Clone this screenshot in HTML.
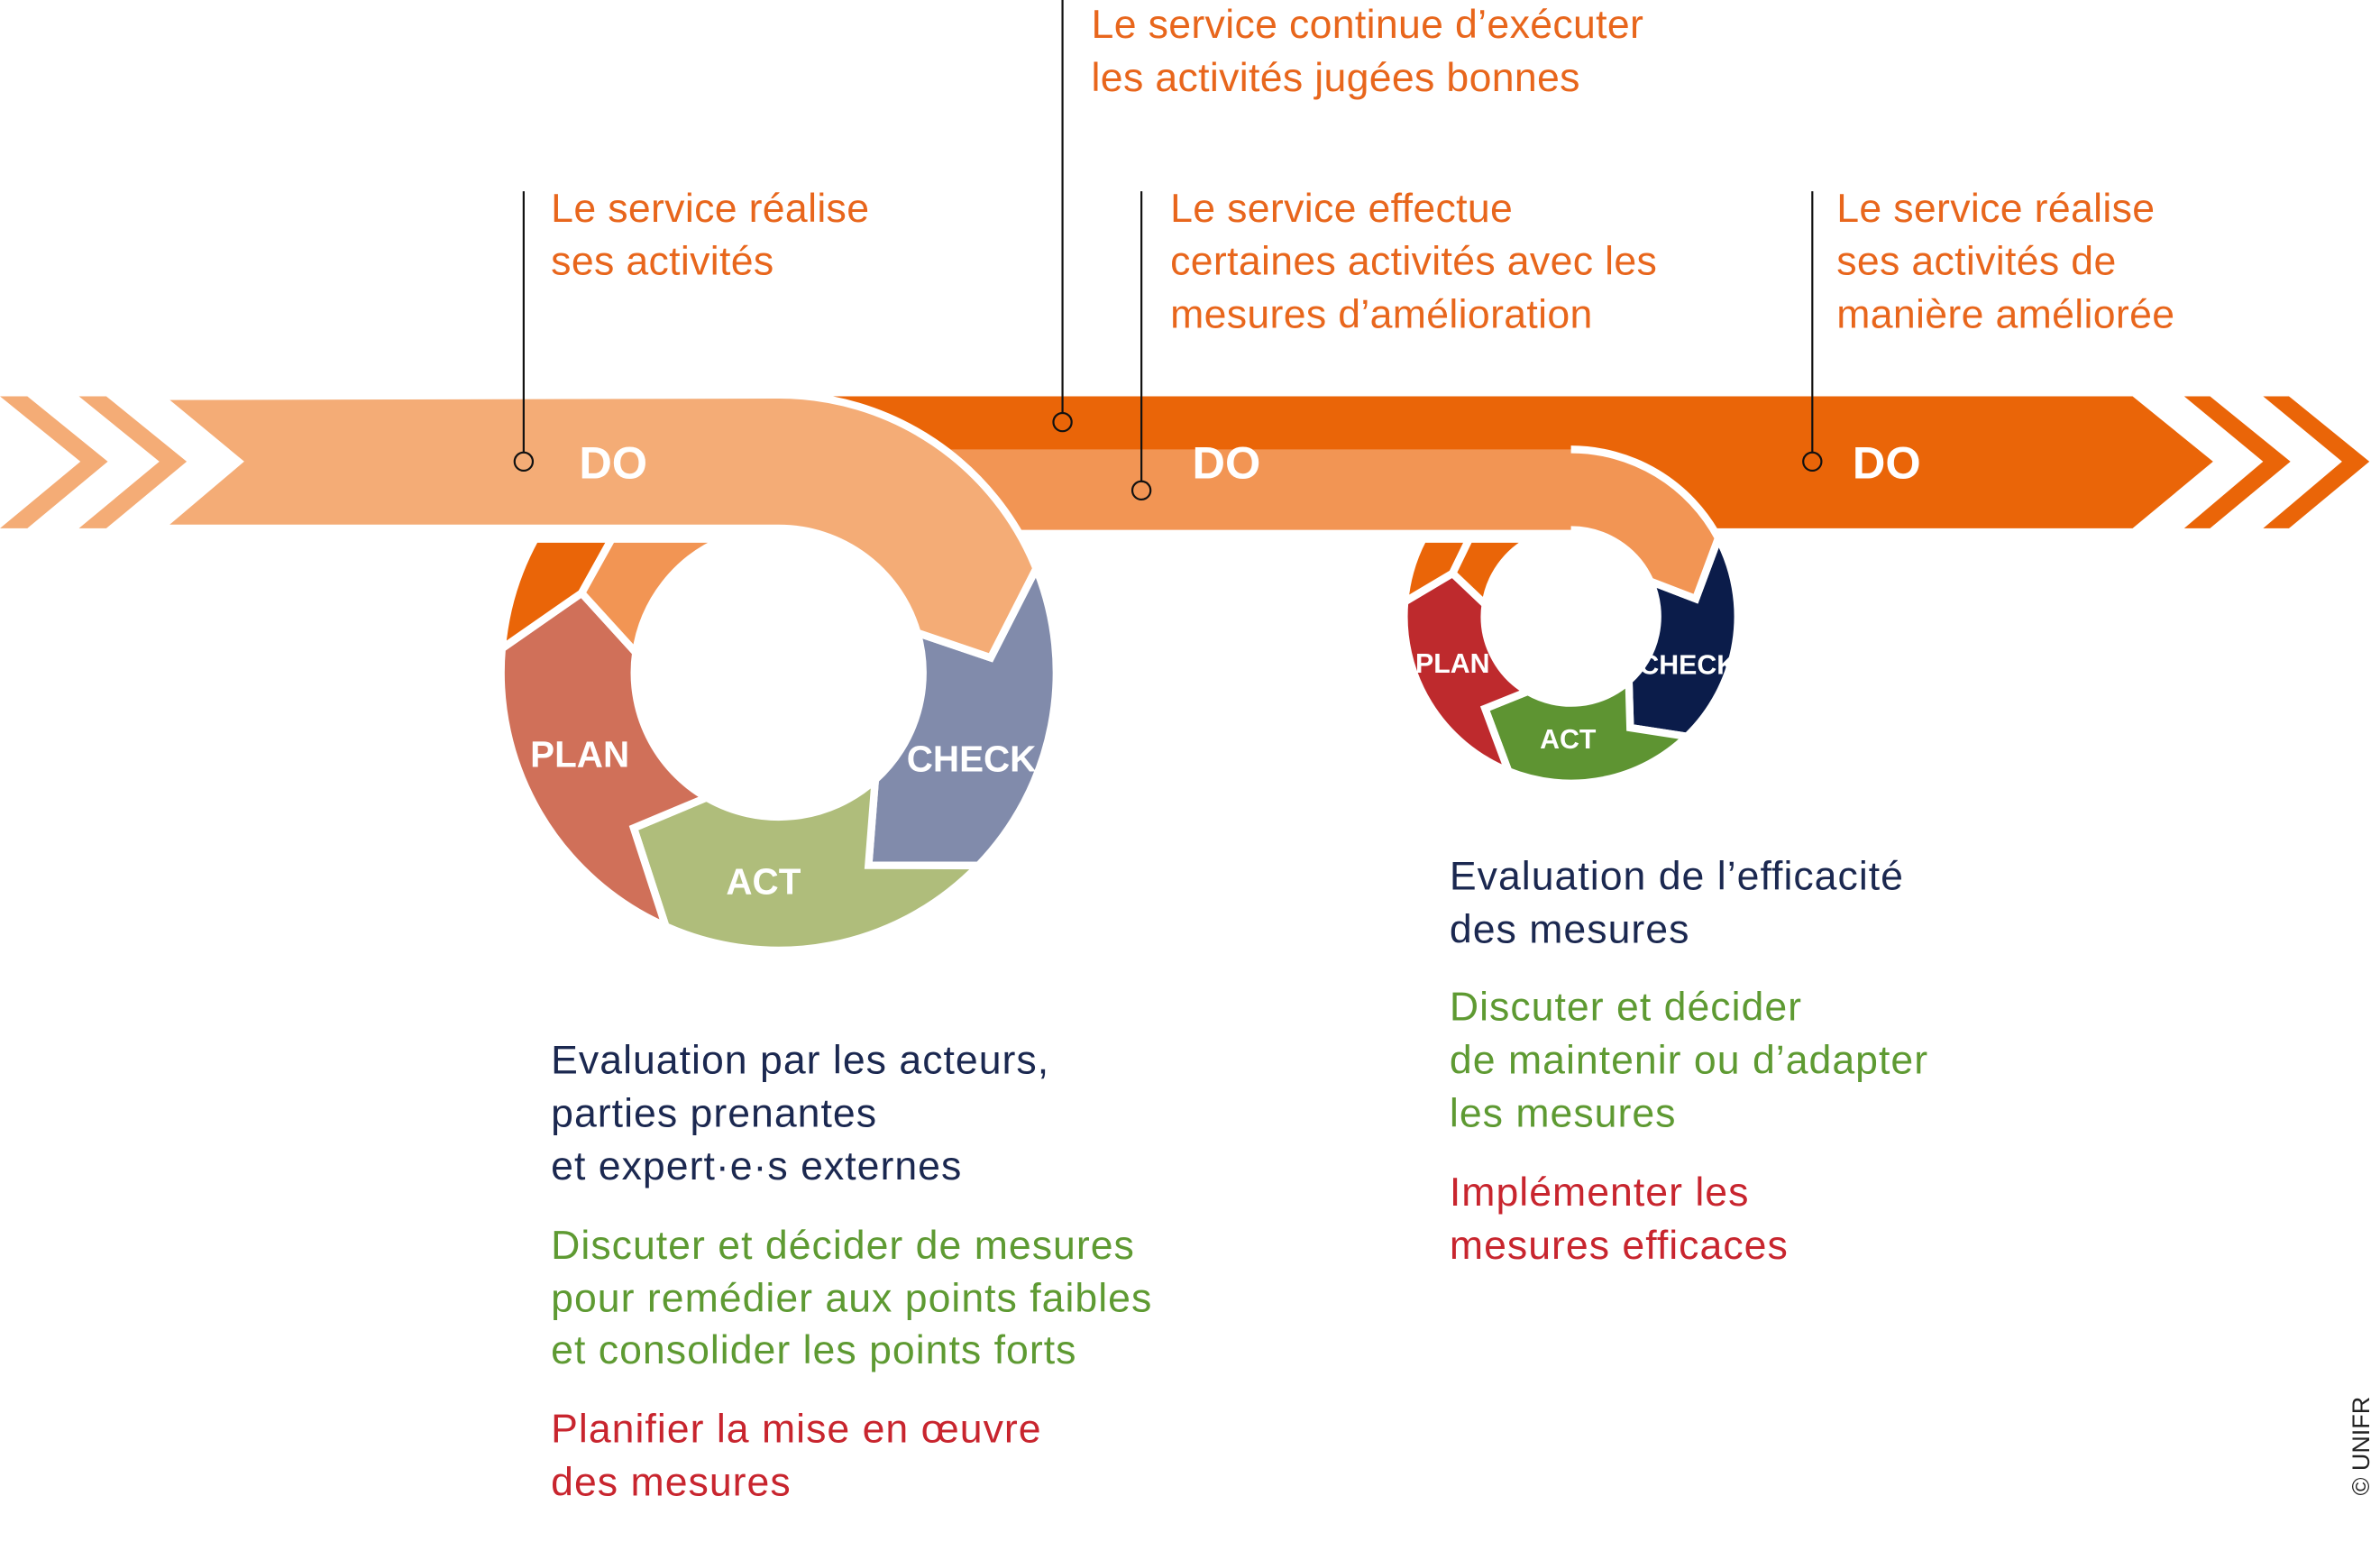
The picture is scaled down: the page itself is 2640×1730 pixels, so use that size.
<!DOCTYPE html>
<html><head><meta charset="utf-8">
<style>
html,body{margin:0;padding:0;background:#fff;}
svg{display:block;}
text{font-family:"Liberation Sans",sans-serif;}
.or{fill:#E8661C;font-size:26.5px;letter-spacing:0.2px;}
.nv{fill:#1B2850;font-size:26.5px;letter-spacing:0.6px;}
.gr{fill:#5E9A32;font-size:26.5px;letter-spacing:0.6px;}
.rd{fill:#C8252E;font-size:26.5px;letter-spacing:0.6px;}
.lb{fill:#fff;font-weight:bold;text-anchor:middle;}
</style></head>
<body>
<svg id="s" width="2640" height="1730" viewBox="0 0 1568 1027.5" xmlns="http://www.w3.org/2000/svg">
<g id="shapes"></g>
<g fill="#F4AC76">
<polygon points="0,261 18,261 71,304 18,348 0,348 53,304"/>
<polygon points="52,261 70,261 123,304 70,348 52,348 105,304"/>
</g>
<g fill="#EA6508">
<polygon points="1439,261 1456,261 1509,304 1456,348 1439,348 1491,304"/>
<polygon points="1491,261 1508,261 1561,304 1508,348 1491,348 1543,304"/>
</g>
<g id="lines" stroke="#111" stroke-width="1.3" fill="none">
<line x1="345" y1="126" x2="345" y2="298"/><circle cx="345" cy="304" r="6"/>
<line x1="700" y1="0" x2="700" y2="272"/><circle cx="700" cy="278" r="6"/>
<line x1="752" y1="126" x2="752" y2="317"/><circle cx="752" cy="323" r="6"/>
<line x1="1194" y1="126" x2="1194" y2="298"/><circle cx="1194" cy="304" r="6"/>
</g>
<g class="lb" font-size="30">
<text x="404" y="315" class="lb">DO</text>
<text x="808" y="315" class="lb">DO</text>
<text x="1243" y="315" class="lb">DO</text>
</g>
<text x="382" y="505" class="lb" font-size="24">PLAN</text>
<text x="640" y="508" class="lb" font-size="24">CHECK</text>
<text x="503" y="589" class="lb" font-size="24">ACT</text>
<text x="957" y="443" class="lb" font-size="18">PLAN</text>
<text x="1112" y="444" class="lb" font-size="18">CHECK</text>
<text x="1033" y="493" class="lb" font-size="18">ACT</text>

<text class="or" x="363"><tspan x="363" y="146">Le service réalise</tspan><tspan x="363" y="181">ses activités</tspan></text>
<text class="or"><tspan x="719" y="25">Le service continue d’exécuter</tspan><tspan x="719" y="60">les activités jugées bonnes</tspan></text>
<text class="or"><tspan x="771" y="146">Le service effectue</tspan><tspan x="771" y="181">certaines activités avec les</tspan><tspan x="771" y="216">mesures d’amélioration</tspan></text>
<text class="or"><tspan x="1210" y="146">Le service réalise</tspan><tspan x="1210" y="181">ses activités de</tspan><tspan x="1210" y="216">manière améliorée</tspan></text>

<text class="nv"><tspan x="363" y="707">Evaluation par les acteurs,</tspan><tspan x="363" y="742">parties prenantes</tspan><tspan x="363" y="777">et expert·e·s externes</tspan></text>
<text class="gr"><tspan x="363" y="829">Discuter et décider de mesures</tspan><tspan x="363" y="864">pour remédier aux points faibles</tspan><tspan x="363" y="898">et consolider les points forts</tspan></text>
<text class="rd"><tspan x="363" y="950">Planifier la mise en œuvre</tspan><tspan x="363" y="985">des mesures</tspan></text>

<text class="nv"><tspan x="955" y="586">Evaluation de l’efficacité</tspan><tspan x="955" y="621">des mesures</tspan></text>
<text class="gr"><tspan x="955" y="672">Discuter et décider</tspan><tspan x="955" y="707">de maintenir ou d’adapter</tspan><tspan x="955" y="742">les mesures</tspan></text>
<text class="rd"><tspan x="955" y="794">Implémenter les</tspan><tspan x="955" y="829">mesures efficaces</tspan></text>

<text transform="translate(1561,985) rotate(-90)" font-size="16" fill="#222">© UNIFR</text>
</svg>
<script>
(function(){
var g=document.getElementById('shapes'),NS='http://www.w3.org/2000/svg';
function P(cx,cy,r,a){a=a*Math.PI/180;return [cx+r*Math.cos(a),cy+r*Math.sin(a)];}
function f(p){return p[0].toFixed(1)+','+p[1].toFixed(1);}
function add(d,fill,stroke){var e=document.createElementNS(NS,'path');e.setAttribute('d',d);e.setAttribute('fill',fill);
 if(stroke){e.setAttribute('stroke','#fff');e.setAttribute('stroke-width','5');e.setAttribute('stroke-linejoin','miter');}
 g.appendChild(e);}
function seg(c,R,r,m,b1,b2,fill){
 var cx=c[0],cy=c[1];
 var d='M'+f(P(cx,cy,R,b1[0]))+' A'+R+','+R+' 0 0 1 '+f(P(cx,cy,R,b2[0]))+
 ' L'+f(P(cx,cy,m,b2[1]))+' L'+f(P(cx,cy,r,b2[2]))+' A'+r+','+r+' 0 0 0 '+f(P(cx,cy,r,b1[2]))+
 ' L'+f(P(cx,cy,m,b1[1]))+' Z';
 add(d,fill,true);}
function ring(c,R,r,m,B,cols,cutY,tipTop,topCols){
 var cx=c[0],cy=c[1];
 seg(c,R,r,m,B[0],B[1],cols[0]);seg(c,R,r,m,B[1],B[2],cols[1]);seg(c,R,r,m,B[2],B[3],cols[2]);
 var b4=B[3];
 var ao=180+Math.asin((cy-cutY)/R)*180/Math.PI;
 var ai=180+Math.asin((cy-cutY)/r)*180/Math.PI;
 var tip=P(cx,cy,m,b4[1]);
 var d1='M'+f(P(cx,cy,R,b4[0]))+' A'+R+','+R+' 0 0 1 '+f(P(cx,cy,R,ao))+' L'+tipTop+','+cutY+' L'+f(tip)+' Z';
 add(d1,topCols[0],true);
 var d2='M'+f(tip)+' L'+tipTop+','+cutY+' L'+f(P(cx,cy,r,ai))+' A'+r+','+r+' 0 0 0 '+f(P(cx,cy,r,b4[2]))+' Z';
 add(d2,topCols[1],true);
}
add('M520,261 L1405,261 L1458,304 L1405,348 L520,348 Z','#EA6508',false);
var C1=[513,443],R1=183,r1=95,m1=140;
var B1=[[-22,-4,-16],[44,65,48],[114,133,120],[185,202,188]];
ring(C1,R1,r1,m1,B1,['#818BAB','#AFBD7B','#D07059'],355,403,['#EA6508','#F29554']);
var C2=[1035,406],R2=110,r2=57,m2=83;
var B2=[[-28,-8,-24],[46,62,48],[112,133,120],[185,200,188]];
ring(C2,R2,r2,m2,B2,['#0B1C4A','#5E9432','#BE2A2D'],355,968,['#EA6508','#EA6508']);
var o=P(C2[0],C2[1],R2,B2[0][0]),t=P(C2[0],C2[1],m2,B2[0][1]),i=P(C2[0],C2[1],r2,B2[0][2]);
var curve='M1035,296 A110,110 0 0 1 '+f(o)+' L'+f(t)+' L'+f(i)+' A57,57 0 0 0 1035,349';
add('M600,296 L1035,296 A110,110 0 0 1 '+f(o)+' L'+f(t)+' L'+f(i)+' A57,57 0 0 0 1035,349 L600,349 Z','#F29554',false);
var e=document.createElementNS(NS,'path');e.setAttribute('d',curve);e.setAttribute('fill','none');e.setAttribute('stroke','#fff');e.setAttribute('stroke-width','5');g.appendChild(e);
var o1=P(C1[0],C1[1],R1,B1[0][0]),t1=P(C1[0],C1[1],m1,B1[0][1]),i1=P(C1[0],C1[1],r1,B1[0][2]);
add('M105,261 L513,260 A183,183 0 0 1 '+f(o1)+' L'+f(t1)+' L'+f(i1)+' A95,95 0 0 0 513,348 L105,348 L157,304 Z','#F4AC76',true);
})();
</script>
</body></html>
